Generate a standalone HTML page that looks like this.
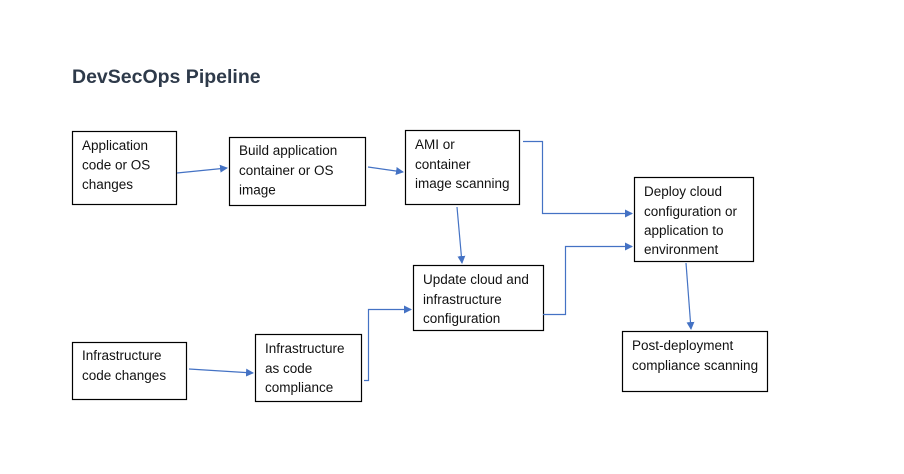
<!DOCTYPE html>
<html><head><meta charset="utf-8"><style>
html,body{margin:0;padding:0;background:#fff;}
svg{display:block;}
text{font-family:"Liberation Sans",sans-serif;font-size:13.5px;fill:#111;}
.t{font-size:19.5px;font-weight:bold;fill:#2e3a4a;}
rect{fill:#fff;stroke:#000;stroke-width:1.2;}
.a{fill:none;stroke:#4472c4;stroke-width:1.2;}
</style></head><body>
<svg width="904" height="474" viewBox="0 0 904 474">
<defs><marker id="m" markerWidth="8" markerHeight="8" refX="7" refY="4" orient="auto" markerUnits="userSpaceOnUse"><path d="M0,0 L8,4 L0,8 z" fill="#4472c4"/></marker></defs>
<text class="t" x="72" y="83">DevSecOps Pipeline</text>

<rect x="72.5" y="131.5" width="104" height="73"/>
<text x="82" y="150">Application</text><text x="82" y="169.5">code or OS</text><text x="82" y="189">changes</text>

<rect x="229.5" y="137.5" width="136" height="68"/>
<text x="239" y="155">Build application</text><text x="239" y="175">container or OS</text><text x="239" y="194.5">image</text>

<rect x="405.5" y="130.5" width="114" height="74"/>
<text x="415" y="149">AMI or</text><text x="415" y="169">container</text><text x="415" y="188">image scanning</text>

<rect x="634.5" y="177.5" width="119" height="84"/>
<text x="644" y="196">Deploy cloud</text><text x="644" y="216">configuration or</text><text x="644" y="235">application to</text><text x="644" y="254">environment</text>

<rect x="413.5" y="265.5" width="130" height="65"/>
<text x="423" y="284">Update cloud and</text><text x="423" y="304">infrastructure</text><text x="423" y="323">configuration</text>

<rect x="72.5" y="342.5" width="114" height="57"/>
<text x="82" y="360">Infrastructure</text><text x="82" y="380">code changes</text>

<rect x="255.5" y="334.5" width="106" height="67"/>
<text x="265" y="353">Infrastructure</text><text x="265" y="373">as code</text><text x="265" y="392">compliance</text>

<rect x="622.5" y="331.5" width="145" height="60"/>
<text x="632" y="350">Post-deployment</text><text x="632" y="370">compliance scanning</text>

<path class="a" marker-end="url(#m)" d="M177,173 L227,168"/>
<path class="a" marker-end="url(#m)" d="M368,167 L403,172"/>
<path class="a" marker-end="url(#m)" d="M457,207 L462,263"/>
<path class="a" marker-end="url(#m)" d="M523,141.5 H542.5 V213.5 H632"/>
<path class="a" marker-end="url(#m)" d="M543,314.5 H565.5 V246.5 H632"/>
<path class="a" marker-end="url(#m)" d="M189,369 L253,373"/>
<path class="a" marker-end="url(#m)" d="M364,380.5 H368.5 V309.5 H411"/>
<path class="a" marker-end="url(#m)" d="M686,263 L691,329"/>
</svg>
</body></html>
